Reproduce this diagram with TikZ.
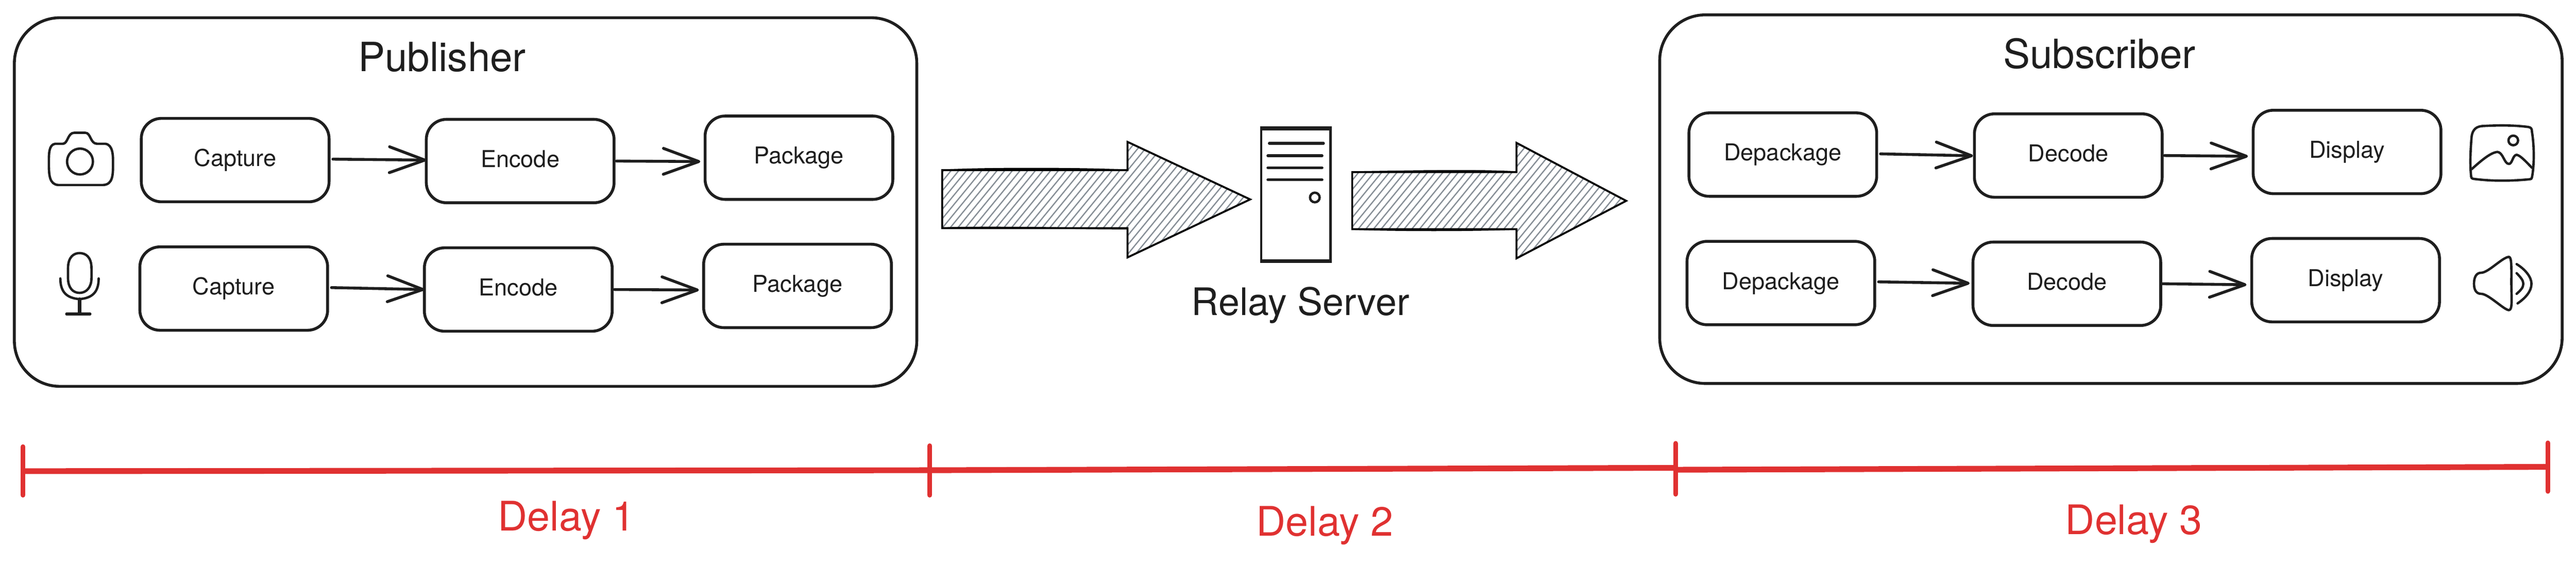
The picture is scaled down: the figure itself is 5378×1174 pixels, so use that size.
\documentclass[tikz,border=0pt]{standalone}
\usepackage{fontspec}
\setmainfont{TeX Gyre Heros}
\usetikzlibrary{arrows.meta}
\definecolor{ink}{HTML}{1E1E1E}
\definecolor{redline}{HTML}{E03131}
\definecolor{hatchgray}{HTML}{868E96}
\tikzset{
  x=1pt,y=-1pt,
  groupbox/.style={draw=ink,line width=6pt,rounded corners=95pt,fill=white},
  procbox/.style={draw=ink,line width=6pt,rounded corners=42pt,inner sep=0pt,
    minimum width=392pt,minimum height=174pt,text=ink,
    font=\fontsize{48.5}{50}\selectfont,text height=38pt,text depth=12pt,align=center},
  conn/.style={draw=ink,line width=6pt,line cap=round,
    -{Straight Barb[length=74pt,width=54pt,round,line width=6pt]}},
  icon/.style={draw=ink,line width=5pt,line cap=round,line join=round},
  title/.style={text=ink,font=\fontsize{84}{90}\selectfont,anchor=base,inner sep=0pt},
  relaytitle/.style={text=ink,font=\fontsize{79}{84}\selectfont,anchor=base,inner sep=0pt},
  delay/.style={text=redline,font=\fontsize{85}{90}\selectfont,anchor=base,inner sep=0pt},
  span/.style={draw=redline,line width=12pt},
  tick/.style={draw=redline,line width=10pt,line cap=round},
  bigarrow/.style={draw=black,line width=4pt,line join=miter},
  sketch/.style={draw=black,line width=3pt},
  hatchline/.style={draw=hatchgray,line width=2.6pt},
}
\newcommand{\hatchfill}[3]{%
  \begin{scope}
    \clip #1;
    \foreach \hx in {#2,#3,...,3500}{
      \draw[hatchline] (\hx,560) -- ++(230,-280);
    }
  \end{scope}}
\begin{document}
\begin{tikzpicture}
\useasboundingbox (0,0) rectangle (5378,1174);
\fill[white] (0,0) rectangle (5378,1174);

% group boxes
\node[groupbox,minimum width=1884pt,minimum height=769pt] (pub) at (972,421.5) {};
\node[groupbox,minimum width=1884pt,minimum height=769pt] (sub) at (4407,415.5) {};
\node[title] (pubt) at (923,149) {Publisher};
\node[title] (subt) at (4383,142) {Subscriber};

% publisher boxes
\node[procbox] (cap1) at (491,334) {Capture};
\node[procbox] (enc1) at (1086,336) {Encode};
\node[procbox] (pkg1) at (1668,329) {Package};
\node[procbox] (cap2) at (488,602) {Capture};
\node[procbox] (enc2) at (1082,604) {Encode};
\node[procbox] (pkg2) at (1665,596.5) {Package};

% subscriber boxes
\node[procbox] (dep1) at (3722,322.5) {Depackage};
\node[procbox] (dec1) at (4318,324.5) {Decode};
\node[procbox] (dis1) at (4900,317) {Display};
\node[procbox] (dep2) at (3718,590.5) {Depackage};
\node[procbox] (dec2) at (4315,592) {Decode};
\node[procbox] (dis2) at (4897,584.5) {Display};

% connectors
\draw[conn] ([xshift=5pt,yshift=2pt]cap1.east) -- ([xshift=3pt,yshift=2pt]enc1.west);
\draw[conn] ([xshift=2pt]enc1.east) -- ([xshift=-7pt,yshift=-8pt]pkg1.west);
\draw[conn] ([xshift=5pt,yshift=2pt]cap2.east) -- ([xshift=3pt]enc2.west);
\draw[conn] ([xshift=2pt]enc2.east) -- ([xshift=-7pt,yshift=-8.5pt]pkg2.west);
\draw[conn] ([xshift=5pt,yshift=1.5pt]dep1.east) -- ([xshift=0pt,yshift=-.5pt]dec1.west);
\draw[conn] ([xshift=2pt]dec1.east) -- ([xshift=-8pt,yshift=-9pt]dis1.west);
\draw[conn] ([xshift=5pt,yshift=2.5pt]dep2.east) -- ([xshift=-4pt,yshift=1pt]dec2.west);
\draw[conn] ([xshift=1pt]dec2.east) -- ([xshift=-8pt,yshift=-9.5pt]dis2.west);

% camera
\draw[icon] (115,300) -- (131,300) .. controls (142,300) and (141,277) .. (155,277)
  -- (178,277) .. controls (190,277) and (188,300) .. (203,300) -- (220,300)
  .. controls (236,302) and (236,325) .. (236,340) .. controls (236,365) and (236,385) .. (215,386)
  -- (122,386) .. controls (103,385) and (102,365) .. (102,340)
  .. controls (102,320) and (102,302) .. (115,300) -- cycle;
\draw[icon] (167,337) circle[radius=27pt];

% microphone
\draw[icon] (142,560) .. controls (142,535) and (155,528) .. (166,528)
  .. controls (178,528) and (191,535) .. (191,560) -- (191,580)
  .. controls (191,600) and (180,611) .. (166,611)
  .. controls (152,611) and (142,600) .. (142,580) -- cycle;
\draw[icon] (126,581) .. controls (126,610) and (140,622) .. (166,624)
  .. controls (192,622) and (206,610) .. (206,581);
\draw[icon,line width=7pt] (166,624) -- (166,654);
\draw[icon,line width=6pt] (139,655) -- (188,655);

% picture icon
\draw[icon] (5160,285) .. controls (5162,270) and (5170,264) .. (5182,263)
  .. controls (5215,261) and (5250,261) .. (5279,265)
  .. controls (5285,266) and (5286,270) .. (5286,275)
  .. controls (5291,305) and (5291,345) .. (5286,370)
  .. controls (5286,373) and (5284,374) .. (5281,374)
  .. controls (5240,378) and (5200,378) .. (5163,373)
  .. controls (5160,372) and (5159,371) .. (5159,368)
  .. controls (5156,340) and (5158,310) .. (5160,285) -- cycle;
\draw[icon] (5247,293) circle[radius=10pt];
\draw[icon] (5160,353) .. controls (5180,335) and (5200,318) .. (5214,317)
  .. controls (5226,318) and (5228,342) .. (5238,342)
  .. controls (5245,342) and (5246,323) .. (5254,323)
  .. controls (5262,324) and (5276,340) .. (5286,350);

% speaker icon
\draw[icon] (5238,536) .. controls (5244,536) and (5243,560) .. (5243,590)
  .. controls (5243,620) and (5246,647) .. (5238,647)
  .. controls (5228,647) and (5195,613) .. (5180,613)
  .. controls (5170,613) and (5165,605) .. (5165,592)
  .. controls (5165,578) and (5170,569) .. (5180,569)
  .. controls (5195,569) and (5225,536) .. (5238,536) -- cycle;
\draw[icon] (5254,570) .. controls (5262,578) and (5268,585) .. (5268,592)
  .. controls (5268,600) and (5262,606) .. (5254,613);
\draw[icon] (5254,551) .. controls (5272,562) and (5285,578) .. (5285,592)
  .. controls (5285,608) and (5272,622) .. (5256,633);

% hatched arrows
\def\arrowone{(1967,355) -- (2354,355) -- (2354,296) -- (2610,416) -- (2354,537) -- (2354,476) -- (1967,476) -- cycle}
\def\arrowtwo{(2823,359) -- (3166,359) -- (3166,298) -- (3395,419) -- (3166,539) -- (3166,478) -- (2823,478) -- cycle}
\hatchfill{\arrowone}{1690}{1706}
\hatchfill{\arrowtwo}{2560}{2576}
\draw[bigarrow] \arrowone;
\draw[bigarrow] \arrowtwo;
\draw[sketch] (1967,355) .. controls (2080,350) and (2250,351) .. (2354,355);
\draw[sketch] (1967,476) .. controls (2060,472) and (2250,477) .. (2354,477);
\draw[sketch] (2823,359) .. controls (2950,357) and (3080,354) .. (3166,359);
\draw[sketch] (2823,478) .. controls (2940,482) and (3080,481) .. (3166,478);

% relay server
\node[draw=ink,line width=5pt,fill=white,minimum width=145pt,minimum height=274pt,inner sep=0pt] (server) at (2705.5,406.5) {};
\draw[ink,line width=6pt] (server.north west) -- (server.north east);
\draw[ink,line width=6pt] (server.south west) -- (server.south east);
\draw[ink,line width=6pt,line cap=round] (2650,299) -- (2763,299);
\draw[ink,line width=6pt,line cap=round] (2647,325) -- (2760,325);
\draw[ink,line width=6pt,line cap=round] (2647,350) -- (2760,350);
\draw[ink,line width=6pt,line cap=round] (2647,375) -- (2760,375);
\draw[ink,line width=5pt] (2745,412) circle[radius=10pt];
\node[relaytitle] (relay) at (2715,658) {Relay Server};

% delay scale
\coordinate (t1) at (48,983);
\coordinate (t2) at (1941,981);
\coordinate (t3a) at (3498,976);
\coordinate (t3b) at (3498,980);
\coordinate (t4) at (5319,974);
\draw[span] (t1) -- (t2) -- (t3a);
\draw[span] (t3b) -- (t4);
\draw[tick] (48,932) -- (48,1033);
\draw[tick] (1941,930) -- (1941,1033);
\draw[tick] (3498,925) -- (3498,1031);
\draw[tick] (5319,924) -- (5319,1025);
\node[delay] (d1) at (1183,1107) {Delay 1};
\node[delay] (d2) at (2766,1118) {Delay 2};
\node[delay] (d3) at (4455,1115) {Delay 3};
\end{tikzpicture}
\end{document}
